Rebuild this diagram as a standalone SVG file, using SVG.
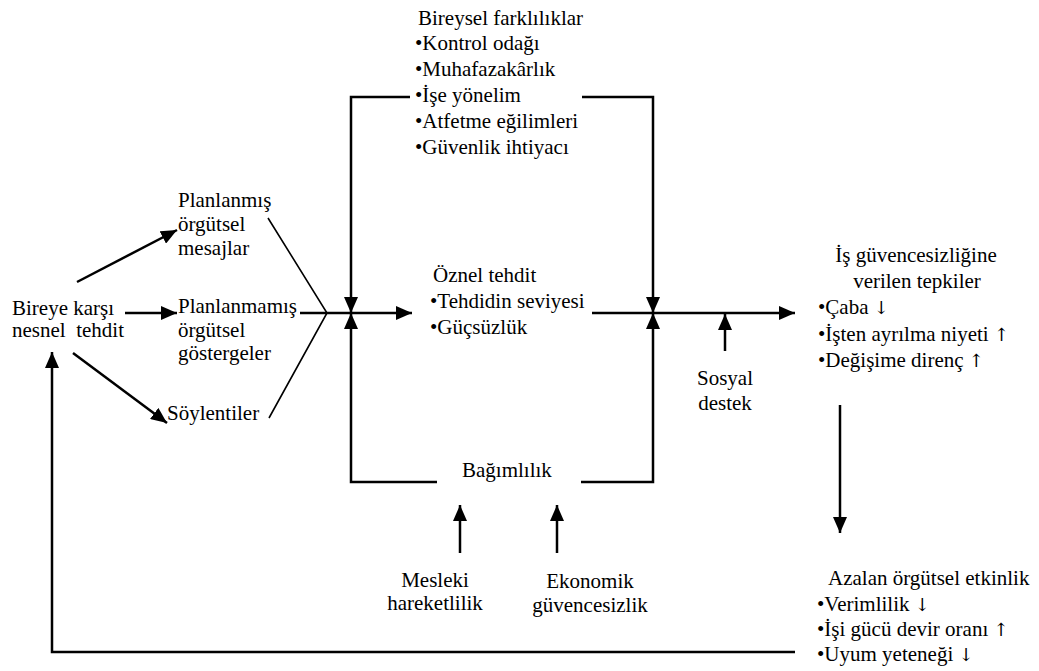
<svg xmlns="http://www.w3.org/2000/svg" width="1039" height="671" viewBox="0 0 1039 671">
  <style>
    text { font-family: "Liberation Serif", "Times New Roman", serif; font-size: 21px; fill: #000; }
    .ar { font-family: "DejaVu Serif", serif; font-size: 18px; fill: #000; }
    .c { fill: none; stroke: #000; stroke-width: 2.5; }
    .thin { fill: none; stroke: #000; stroke-width: 1.6; }
  </style>
  <defs>
    <marker id="ah" markerUnits="userSpaceOnUse" markerWidth="16" markerHeight="14" refX="16" refY="7" orient="auto">
      <path d="M0,0 L16,7 L0,14 z" fill="#000"/>
    </marker>
  </defs>
  <rect width="1039" height="671" fill="#fff"/>

  <!-- all arrows and brackets -->
  <g id="connectors">
    <line class="c" x1="77" y1="282" x2="177" y2="230" marker-end="url(#ah)"/>
    <line class="c" x1="125" y1="313" x2="177" y2="313" marker-end="url(#ah)"/>
    <line class="c" x1="73" y1="353" x2="167" y2="423" marker-end="url(#ah)"/>
    <polyline class="thin" points="268,218 327,313 269,418"/>
    <line class="c" x1="300" y1="313" x2="412" y2="313" marker-end="url(#ah)"/>
    <polyline class="c" points="410,97 351,97 351,313" marker-end="url(#ah)"/>
    <polyline class="c" points="437,482 351,482 351,313" marker-end="url(#ah)"/>
    <polyline class="c" points="582,97 653,97 653,313" marker-end="url(#ah)"/>
    <polyline class="c" points="581,482 653,482 653,313" marker-end="url(#ah)"/>
    <line class="c" x1="592" y1="313" x2="795" y2="313" marker-end="url(#ah)"/>
    <line class="c" x1="725" y1="351" x2="725" y2="314" marker-end="url(#ah)"/>
    <line class="c" x1="460" y1="553" x2="460" y2="505" marker-end="url(#ah)"/>
    <line class="c" x1="557" y1="553" x2="557" y2="505" marker-end="url(#ah)"/>
    <line class="c" x1="840" y1="405" x2="840" y2="533" marker-end="url(#ah)"/>
    <polyline class="c" points="795,652 52,652 52,352" marker-end="url(#ah)"/>
  </g>

  <g id="nesnel-tehdit">
    <text x="12" y="315">Bireye karşı</text>
    <text x="12" y="337" xml:space="preserve">nesnel  tehdit</text>
  </g>
  <g id="planlanmis">
    <text x="178" y="207">Planlanmış</text>
    <text x="178" y="231">örgütsel</text>
    <text x="178" y="255">mesajlar</text>
  </g>
  <g id="planlanmamis">
    <text x="178" y="313">Planlanmamış</text>
    <text x="178" y="337">örgütsel</text>
    <text x="178" y="360">göstergeler</text>
  </g>
  <g id="soylentiler">
    <text x="167" y="420">Söylentiler</text>
  </g>
  <g id="bireysel-farkliliklar">
    <text x="418" y="25">Bireysel farklılıklar</text>
    <text x="415" y="50">•Kontrol odağı</text>
    <text x="415" y="76">•Muhafazakârlık</text>
    <text x="415" y="102">•İşe yönelim</text>
    <text x="415" y="128">•Atfetme eğilimleri</text>
    <text x="415" y="154">•Güvenlik ihtiyacı</text>
  </g>
  <g id="oznel-tehdit">
    <text x="433" y="282">Öznel tehdit</text>
    <text x="430" y="308">•Tehdidin seviyesi</text>
    <text x="430" y="334">•Güçsüzlük</text>
  </g>
  <g id="bagimlilik">
    <text x="462" y="477">Bağımlılık</text>
  </g>
  <g id="mesleki-hareketlilik">
    <text x="435" y="587" text-anchor="middle">Mesleki</text>
    <text x="435" y="610" text-anchor="middle">hareketlilik</text>
  </g>
  <g id="ekonomik-guvencesizlik">
    <text x="590" y="588" text-anchor="middle">Ekonomik</text>
    <text x="590" y="612" text-anchor="middle">güvencesizlik</text>
  </g>
  <g id="sosyal-destek">
    <text x="725" y="385" text-anchor="middle">Sosyal</text>
    <text x="725" y="410" text-anchor="middle">destek</text>
  </g>
  <g id="tepkiler">
    <text x="916" y="262" text-anchor="middle">İş güvencesizliğine</text>
    <text x="917" y="288" text-anchor="middle">verilen tepkiler</text>
    <text x="818" y="314">•Çaba <tspan class="ar">↓</tspan></text>
    <text x="818" y="341">•İşten ayrılma niyeti <tspan class="ar">↑</tspan></text>
    <text x="818" y="367">•Değişime direnç <tspan class="ar">↑</tspan></text>
  </g>
  <g id="orgutsel-etkinlik">
    <text x="828" y="585">Azalan örgütsel etkinlik</text>
    <text x="817" y="611">•Verimlilik <tspan class="ar">↓</tspan></text>
    <text x="817" y="636">•İşi gücü devir oranı <tspan class="ar">↑</tspan></text>
    <text x="817" y="661">•Uyum yeteneği <tspan class="ar">↓</tspan></text>
  </g>
</svg>
